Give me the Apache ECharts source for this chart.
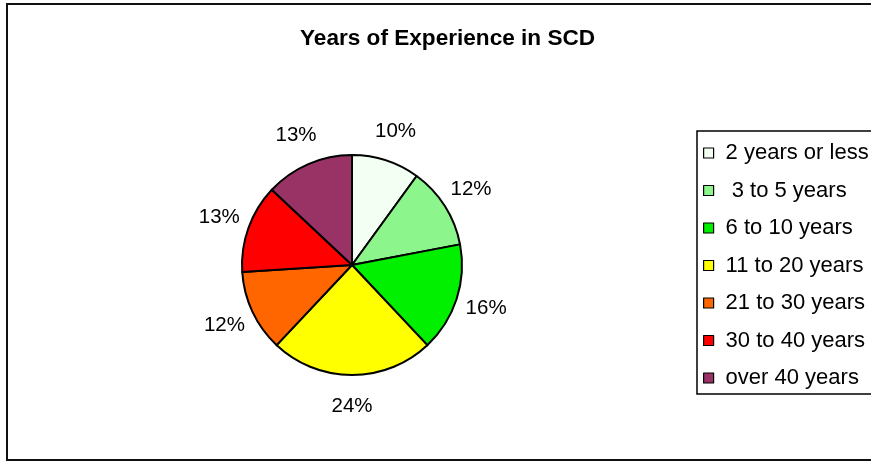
<!DOCTYPE html>
<html>
<head>
<meta charset="utf-8">
<script src="https://cdn.jsdelivr.net/npm/echarts@6/dist/echarts.min.js"></script>
<style>
html,body{margin:0;padding:0;background:#fff;}
#chart{width:871px;height:462px;}
</style>
</head>
<body>
<div id="chart"></div>
<script>
var titleText = 'Years of Experience in SCD';
var categories = ['2 years or less', ' 3 to 5 years', '6 to 10 years', '11 to 20 years', '21 to 30 years', '30 to 40 years', 'over 40 years'];
var values = [10, 12, 16, 24, 12, 13, 13];
var colors = ['#f4fff4', '#8cf58c', '#00f000', '#ffff00', '#ff6600', '#ff0000', '#993366'];

var FONT = '"Liberation Sans", Arial, sans-serif';
var chart = echarts.init(document.getElementById('chart'), null, {renderer: 'canvas'});

var pieData = categories.map(function (c, i) {
  return {name: c, value: values[i], itemStyle: {color: colors[i]}};
});
var labelData = categories.map(function (c, i) {
  return {name: c, value: values[i]};
});

chart.setOption({
  animation: false,
  backgroundColor: '#ffffff',
  title: {
    text: titleText,
    left: 300,
    top: 27,
    padding: 0,
    textStyle: {fontFamily: FONT, fontSize: 22.6, fontWeight: 'bold', color: '#000'}
  },
  legend: {
    orient: 'vertical',
    left: 697,
    top: 131,
    padding: [11, 12, 5, 6],
    itemGap: 15.5,
    itemWidth: 10,
    itemHeight: 10,
    icon: 'rect',
    backgroundColor: '#fff',
    borderColor: '#000',
    borderWidth: 1.5,
    borderRadius: 0,
    data: categories,
    itemStyle: {borderColor: '#000', borderWidth: 1.2},
    textStyle: {fontFamily: FONT, fontSize: 22, color: '#000', padding: [0, 0, 0, 7]}
  },
  graphic: [{
    type: 'rect',
    silent: true,
    z: -10,
    shape: {x: 7, y: 4, width: 900, height: 456},
    style: {fill: 'none', stroke: '#111', lineWidth: 2}
  }],
  series: [{
    type: 'pie',
    center: [352, 265],
    radius: [0, 110],
    startAngle: 90,
    clockwise: true,
    data: pieData,
    label: {show: false},
    labelLine: {show: false},
    itemStyle: {borderColor: '#000', borderWidth: 2},
    emphasis: {disabled: true}
  }, {
    type: 'pie',
    center: [352, 265],
    radius: [120, 156],
    startAngle: 90,
    clockwise: true,
    silent: true,
    legendHoverLink: false,
    data: labelData,
    itemStyle: {color: 'rgba(0,0,0,0)', borderWidth: 0},
    label: {
      show: true,
      position: 'inside',
      formatter: function (p) { return p.value + '%'; },
      fontFamily: FONT, fontSize: 20.5, color: '#000'
    },
    labelLine: {show: false},
    emphasis: {disabled: true}
  }]
});
</script>
</body>
</html>
